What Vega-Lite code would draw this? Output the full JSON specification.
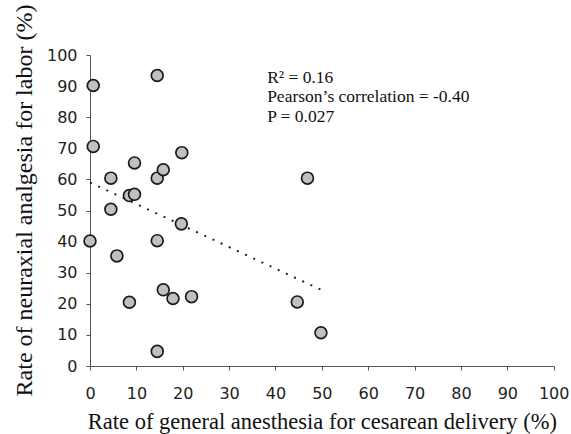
{
  "$schema": "https://vega.github.io/schema/vega-lite/v6.json",
  "width": 463.7,
  "height": 311,
  "autosize": {"type": "none"},
  "padding": {"left": 90, "top": 55, "right": 17.3, "bottom": 68},
  "background": "white",
  "config": {"view": {"stroke": null}},
  "datasets": {
    "points": [
      {"ga": 0, "na": 40.2},
      {"ga": 0.7, "na": 90.2},
      {"ga": 0.7, "na": 70.6},
      {"ga": 4.5, "na": 60.4},
      {"ga": 4.5, "na": 50.4},
      {"ga": 5.8, "na": 35.4},
      {"ga": 8.5, "na": 54.8},
      {"ga": 9.6, "na": 55.2},
      {"ga": 8.5, "na": 20.5},
      {"ga": 9.6, "na": 65.3},
      {"ga": 14.5, "na": 93.4},
      {"ga": 14.5, "na": 60.4},
      {"ga": 14.5, "na": 40.3},
      {"ga": 14.5, "na": 4.7},
      {"ga": 15.8, "na": 63.1},
      {"ga": 15.8, "na": 24.5},
      {"ga": 17.9, "na": 21.7},
      {"ga": 19.8, "na": 68.6},
      {"ga": 19.7, "na": 45.7},
      {"ga": 21.9, "na": 22.3},
      {"ga": 44.7, "na": 20.6},
      {"ga": 46.9, "na": 60.4},
      {"ga": 49.8, "na": 10.7}
    ],
    "trend": [
      {"ga": 0, "na": 59.0},
      {"ga": 50, "na": 24.4}
    ],
    "notes": [
      {"ga": 38.2, "na": 91.0, "label": "R² = 0.16"},
      {"ga": 38.2, "na": 84.8, "label": "Pearson’s correlation = -0.40"},
      {"ga": 38.2, "na": 78.6, "label": "P = 0.027"}
    ]
  },
  "encoding": {
    "x": {
      "field": "ga", "type": "quantitative",
      "scale": {"domain": [0, 100], "nice": false, "zero": true},
      "axis": {
        "title": "Rate of general anesthesia for cesarean delivery (%)",
        "values": [0, 10, 20, 30, 40, 50, 60, 70, 80, 90, 100],
        "grid": false,
        "domainColor": "#555555",
        "tickColor": "#555555",
        "tickSize": 4,
        "labelPadding": 15,
        "labelFont": "DejaVu Sans",
        "labelFontSize": 16,
        "labelColor": "#222222",
        "labelFlush": false,
        "labelOverlap": false,
        "titleFont": "Liberation Serif",
        "titleFontSize": 22.5,
        "titleFontWeight": "normal",
        "titleColor": "#111111",
        "titleBaseline": "alphabetic",
        "titleY": 62
      }
    },
    "y": {
      "field": "na", "type": "quantitative",
      "scale": {"domain": [0, 100], "nice": false, "zero": true},
      "axis": {
        "title": "Rate of neuraxial analgesia for labor (%)",
        "values": [0, 10, 20, 30, 40, 50, 60, 70, 80, 90, 100],
        "grid": false,
        "domainColor": "#555555",
        "tickColor": "#555555",
        "tickSize": 4,
        "labelPadding": 9,
        "labelFont": "DejaVu Sans",
        "labelFontSize": 16,
        "labelColor": "#222222",
        "labelFlush": false,
        "labelOverlap": false,
        "titleFont": "Liberation Serif",
        "titleFontSize": 24,
        "titleFontWeight": "normal",
        "titleColor": "#111111",
        "titleBaseline": "alphabetic",
        "titleX": -59,
        "titleY": 145
      }
    }
  },
  "layer": [
    {
      "data": {"name": "trend"},
      "mark": {"type": "line", "color": "#222222", "strokeWidth": 2, "strokeDash": [2, 7]}
    },
    {
      "data": {"name": "points"},
      "mark": {"type": "point", "shape": "circle", "filled": false, "fill": "#c0c0c0", "stroke": "#1a1a1a", "strokeWidth": 1.7, "size": 140, "opacity": 1}
    },
    {
      "data": {"name": "notes"},
      "mark": {"type": "text", "align": "left", "baseline": "alphabetic", "font": "Liberation Serif", "fontSize": 17.5, "color": "#111111"},
      "encoding": {
        "text": {"field": "label"}
      }
    }
  ]
}
